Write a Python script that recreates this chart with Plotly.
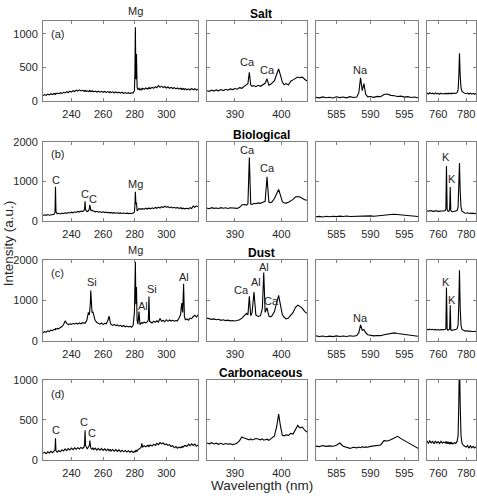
import plotly.graph_objects as go

# ---------------- data (wavelength in nm, intensity in a.u.) ----------------
uv_wl = ([222, 223, 224, 225, 226, 227, 228, 229, 229.6, 229.9, 230.2]
         + list(range(231, 249))
         + [248.3, 248.6, 248.9, 249.5, 250, 250.7, 251.3, 251.6, 251.9, 252.2, 252.5, 253, 253.5, 254]
         + list(range(255, 264)) + [263.8, 264.5] + list(range(265, 280))
         + [279.8, 280.1, 280.4, 280.75, 281.1, 281.5, 282, 282.7, 283.3, 284, 284.5]
         + list(range(285, 289)) + [288.6, 289.0, 289.4] + list(range(290, 310))
         + [309.4, 309.8, 310.3, 310.9, 311.4] + list(range(312, 321)))

vis_wl = [384, 384.5, 385, 385.5, 386, 386.5, 387, 387.5, 388, 388.5, 389, 389.5, 390, 390.5, 391, 391.5, 392, 392.5,
          392.8, 393.1, 393.4, 393.7, 394.1, 394.5, 395, 395.5, 395.9, 396.2, 396.5, 396.9, 397.3, 397.7, 398, 398.5,
          399, 399.4, 399.8, 400.2, 400.6, 401,
          401.5, 402, 402.5, 403, 403.5, 404, 404.5, 405, 405.5]

na_wl = [582, 582.5, 583, 583.5, 584, 584.5, 585, 585.5, 586, 586.5, 587, 587.5, 588,
         588.3, 588.55, 588.8, 589.05, 589.3, 589.6,
         590, 590.5, 591, 591.5, 592, 592.5, 593, 593.5, 594, 594.5, 595, 595.5, 596, 596.5, 597]

k_wl = ([752, 753, 754, 755, 756, 757, 758, 759, 760, 761, 762, 763, 764,
         765, 765.5, 765.9, 766.4, 767, 767.6, 768.2, 768.6, 769, 769.6, 770.5, 771.5, 772.5, 773.5,
         774.2, 774.7, 775.2, 775.7, 776.3, 777, 778, 779,
         780, 781, 782, 783, 784, 785, 786, 787])

salt_uv = ([75, 92, 80, 98, 86, 104, 92, 108] + [96, 112, 100]
           + [114, 104, 120, 108, 126, 116, 134, 122, 142, 128, 150, 138, 158, 144, 162, 146, 156, 142]
           + [150, 138, 152, 140, 148, 136, 150, 140, 152, 138, 148, 136, 146, 134]
           + [144, 130, 142, 128, 140, 126, 138, 124, 136] + [122, 134]
           + [120, 132, 118, 130, 116, 128, 112, 126, 110, 122, 108, 120, 106, 118, 114]
           + [150, 400, 1100, 320, 700, 200, 165, 185, 160, 180, 165]
           + [185, 170, 190, 175] + [192, 178, 196]
           + [182, 200, 186, 210, 195, 225, 200, 218, 196, 212, 190, 205, 186, 200, 182, 195, 176, 190, 172, 186]
           + [170, 184, 168, 182, 166] + [180, 164, 178, 160, 184, 164, 180, 160, 172])

bio_uv = ([130, 150, 135, 155, 140, 152, 145, 162] + [210, 860, 230]
          + [176, 188, 170, 192, 180, 202, 186, 208, 196, 216, 200, 226, 210, 236, 220, 246, 232, 262]
          + [300, 490, 280, 240, 232, 250, 300, 400, 290, 265, 272, 248, 258, 242]
          + [226, 240, 215, 230, 210, 225, 205, 220, 200] + [214, 196]
          + [210, 193, 205, 190, 200, 186, 198, 184, 195, 182, 192, 180, 190, 178, 192]
          + [220, 380, 730, 420, 460, 250, 280, 310, 288, 305, 292]
          + [306, 290, 316, 296] + [322, 302, 318]
          + [300, 326, 306, 336, 316, 346, 322, 356, 332, 366, 342, 356, 330, 346, 322, 340, 316, 336, 312, 330]
          + [306, 322, 302, 318, 300] + [302, 316, 300, 330, 310, 372, 342, 376, 352])

dust_uv = ([200, 226, 212, 244, 232, 262, 250, 282] + [270, 296, 282]
           + [306, 296, 330, 350, 400, 490, 430, 400, 420, 405, 430, 410, 436, 414, 440, 420, 446, 426]
           + [440, 430, 460, 480, 560, 700, 640, 720, 900, 1240, 800, 690, 720, 620]
           + [500, 452, 430, 410, 440, 400, 432, 418, 500] + [610, 460]
           + [402, 380, 406, 372, 392, 360, 382, 352, 376, 346, 362, 340, 356, 332, 380]
           + [700, 1200, 1950, 900, 1330, 500, 410, 720, 400, 430, 450]
           + [432, 460, 440, 470] + [520, 1090, 480]
           + [462, 440, 482, 456, 492, 462, 550, 482, 502, 470, 520, 480, 512, 486, 506, 482, 500, 492, 560, 640]
           + [820, 930, 700, 1410, 600] + [520, 540, 510, 560, 545, 600, 630, 585, 640])

carb_uv = ([80, 96, 76, 100, 86, 106, 90, 110] + [125, 270, 112]
           + [96, 116, 100, 126, 110, 136, 116, 140, 122, 146, 126, 150, 132, 152, 136, 156, 142, 162]
           + [210, 370, 180, 150, 136, 160, 180, 240, 165, 148, 140, 132, 150, 128]
           + [146, 122, 144, 120, 140, 118, 138, 115, 135] + [112, 132]
           + [110, 130, 108, 128, 105, 125, 102, 120, 100, 118, 98, 115, 95, 110, 92]
           + [105, 98, 112, 104, 118, 110, 126, 136, 148, 155, 205]
           + [160, 176, 162, 182] + [168, 186, 172]
           + [186, 172, 196, 180, 206, 190, 216, 200, 210, 190, 200, 180, 190, 166, 176, 150, 166, 146, 160, 150]
           + [162, 154, 170, 160, 176] + [180, 166, 196, 176, 200, 180, 196, 170, 186])

salt_vis = ([150, 140, 158, 144, 162, 148, 166, 152, 170, 158, 176, 166, 182, 172, 196, 186, 215, 240]
            + [255, 426, 235, 215, 226, 210, 230, 216, 238, 246, 260, 328, 232, 246, 262, 300, 400, 475, 380, 275, 240, 256]
            + [236, 292, 312, 340, 355, 345, 352, 322, 295])
bio_vis = ([320, 305, 330, 312, 322, 308, 330, 315, 326, 310, 328, 318, 325, 312, 340, 400, 410, 395]
           + [430, 1600, 420, 410, 440, 430, 450, 440, 458, 470, 490, 1114, 470, 455, 480, 560, 700, 790, 640, 480, 450, 446]
           + [470, 500, 540, 600, 612, 598, 560, 530, 520])
dust_vis = ([560, 545, 528, 540, 520, 530, 505, 520, 498, 510, 492, 500, 488, 500, 520, 560, 620, 677]
            + [640, 1097, 620, 700, 1202, 640, 600, 620, 800, 1685, 700, 815, 610, 590, 620, 720, 950, 1121, 880, 640, 580, 540]
            + [560, 620, 700, 820, 879, 850, 800, 720, 677])
carb_vis = ([210, 200, 214, 198, 208, 194, 206, 192, 204, 196, 200, 190, 198, 210, 240, 286, 272, 262]
            + [258, 250, 262, 248, 256, 266, 260, 250, 262, 246, 252, 258, 244, 262, 278, 300, 420, 571, 420, 306, 300, 312]
            + [306, 330, 322, 380, 429, 400, 410, 370, 347])

salt_na = ([50, 42, 56, 44, 52, 40, 58, 46, 54, 42, 60, 48, 56] + [120, 343, 150, 255, 100, 58]
           + [62, 50, 64, 58, 92, 100, 80, 74, 62, 68, 54, 60, 48, 56, 44])
bio_na = ([100, 110, 96, 112, 100, 114, 104, 116, 106, 118, 108, 112, 104] + [116, 106, 118, 110, 120, 112]
          + [122, 114, 126, 120, 134, 146, 156, 164, 158, 150, 140, 128, 120, 116, 108])
dust_na = ([120, 105, 118, 100, 115, 102, 120, 106, 118, 104, 122, 110, 130] + [200, 395, 260, 274, 200, 150]
           + [140, 120, 130, 126, 150, 170, 186, 194, 180, 168, 150, 140, 124, 118, 110])
carb_na = ([171, 165, 178, 168, 175, 170, 182, 210, 170, 160, 143, 158, 150] + [160, 152, 165, 155, 162, 158]
           + [168, 172, 176, 186, 240, 235, 250, 270, 294, 265, 240, 215, 190, 165, 143])

salt_k = ([115, 100, 118, 104, 112, 98, 116, 102, 110, 96, 114, 100, 108]
          + [102, 112, 104, 110, 100, 112, 104, 110, 102, 112, 106, 114, 108, 120, 160, 350, 711, 380, 190, 140, 118, 110]
          + [104, 114, 100, 112, 98, 110, 96, 108])
bio_k = ([250, 240, 256, 244, 252, 238, 250, 242, 248, 236, 246, 240, 250]
         + [260, 300, 1382, 280, 240, 236, 300, 854, 260, 232, 226, 232, 238, 260, 340, 800, 1463, 760, 340, 240, 210, 196]
         + [190, 200, 184, 196, 180, 192, 178, 187])
dust_k = ([285, 270, 288, 272, 282, 266, 280, 268, 278, 262, 276, 268, 274]
          + [280, 300, 1315, 290, 262, 268, 290, 879, 272, 258, 262, 270, 276, 300, 380, 900, 1742, 820, 380, 280, 250, 244]
          + [238, 246, 232, 240, 228, 238, 230, 234])
carb_k = ([240, 205, 238, 212, 230, 200, 236, 210, 228, 204, 232, 208, 224]
          + [212, 230, 204, 226, 200, 222, 198, 220, 196, 216, 198, 214, 204, 230, 300, 700, 1300, 700, 300, 210, 180, 170]
          + [160, 180, 145, 176, 150, 170, 148, 163])

row_titles = ["Salt", "Biological", "Dust", "Carbonaceous"]
col_wl = [uv_wl, vis_wl, na_wl, k_wl]
spectra = [
    [salt_uv, salt_vis, salt_na, salt_k],
    [bio_uv, bio_vis, bio_na, bio_k],
    [dust_uv, dust_vis, dust_na, dust_k],
    [carb_uv, carb_vis, carb_na, carb_k],
]
x_ranges = [[222, 320], [384, 405.5], [582, 597], [752, 787]]
x_ticks = [[240, 260, 280, 300], [390, 400], [585, 590, 595], [760, 780]]
y_ranges = [[0, 1200], [0, 2000], [0, 2000], [0, 1000]]
y_ticks = [[0, 500, 1000], [0, 1000, 2000], [0, 1000, 2000], [0, 500, 1000]]

# peak labels inside the panels: (row, col, text, wavelength, intensity)
peak_labels = [
    (0, 0, "(a)", 231.3, 1004), (0, 1, "Ca", 392.6, 585),
    (0, 1, "Ca", 397.1, 460), (0, 2, "Na", 588.6, 460),
    (1, 0, "(b)", 231.3, 1679), (1, 0, "C", 230.1, 1025), (1, 0, "C", 248.4, 667),
    (1, 0, "C", 253.5, 556), (1, 0, "Mg", 280.6, 938), (1, 1, "Ca", 392.8, 1790),
    (1, 1, "Ca", 397.1, 1333), (1, 3, "K", 765.9, 1617), (1, 3, "K", 769.5, 1062),
    (2, 0, "(c)", 231.3, 1663), (2, 0, "Si", 252.8, 1446),
    (2, 0, "Al", 285.0, 855), (2, 0, "Si", 290.7, 1277), (2, 0, "Al", 311.0, 1578),
    (2, 1, "Ca", 391.4, 1253), (2, 1, "Al", 394.5, 1446), (2, 1, "Al", 396.2, 1819),
    (2, 1, "Ca", 397.9, 988), (2, 2, "Na", 588.6, 554), (2, 3, "K", 765.7, 1446),
    (2, 3, "K", 769.5, 1012),
    (3, 0, "(d)", 231.3, 823), (3, 0, "C", 230.1, 378), (3, 0, "C", 248.1, 476),
    (3, 0, "C", 253.1, 335),
]
# labels of peaks running above the panel top: (row, col, text, wavelength)
top_labels = [(0, 0, "Mg", 280.4), (2, 0, "Mg", 280.3)]

# ---------------- layout ----------------
W, H = 477, 500
col_px = [(43, 198), (207, 307), (316, 418), (427, 476)]
row_px = [(15, 97), (139, 220), (260, 343), (383, 465)]
FONT = "Liberation Sans, Arial, sans-serif"
AXCOL = "#808080"
TXT = "#262626"

fig = go.Figure()
layout = dict(width=W, height=H, margin=dict(l=0, r=0, t=0, b=0),
              paper_bgcolor="white", plot_bgcolor="white", showlegend=False,
              font=dict(family=FONT, size=11, color=TXT))
annotations = []


def ax_names(r, c):
    k = r * 4 + c + 1
    return ("x" if k == 1 else f"x{k}"), ("y" if k == 1 else f"y{k}")


for r in range(4):
    for c in range(4):
        k = r * 4 + c + 1
        xa, ya = ax_names(r, c)
        fig.add_trace(go.Scatter(x=col_wl[c], y=spectra[r][c], mode="lines",
                                 line=dict(color="black", width=1.1), xaxis=xa, yaxis=ya,
                                 hoverinfo="skip"))
        x0, x1 = col_px[c]
        y0, y1 = row_px[r]
        common = dict(showgrid=False, zeroline=False, showline=True, linecolor=AXCOL, linewidth=1,
                      mirror="ticks", ticks="inside", ticklen=3, tickcolor=AXCOL, tickwidth=1,
                      tickfont=dict(family=FONT, size=11, color=TXT))
        layout["xaxis" if k == 1 else f"xaxis{k}"] = dict(
            common, domain=[x0 / W, x1 / W], range=x_ranges[c], tickvals=x_ticks[c],
            anchor=ya, ticklabelstandoff=3)
        layout["yaxis" if k == 1 else f"yaxis{k}"] = dict(
            common, domain=[1 - y1 / H, 1 - y0 / H], range=y_ranges[r], tickvals=y_ticks[r],
            anchor=xa, showticklabels=(c == 0), ticklabelstandoff=2)

for (r, c, t, xv, yv) in peak_labels:
    xa, ya = ax_names(r, c)
    annotations.append(dict(text=t, x=xv, y=yv, xref=xa, yref=ya, showarrow=False,
                            xanchor="center", yanchor="middle",
                            font=dict(family=FONT, size=11, color=TXT)))

for (r, c, t, xv) in top_labels:
    xa, ya = ax_names(r, c)
    annotations.append(dict(text=t, x=xv, y=1.0, xref=xa, yref=f"{ya} domain", showarrow=False,
                            xanchor="center", yanchor="bottom", yshift=2,
                            font=dict(family=FONT, size=11, color=TXT)))

for r, t in enumerate(row_titles):
    annotations.append(dict(text=f"<b>{t}</b>", x=261 / W, y=1 - (row_px[r][0] - 7) / H,
                            xref="paper", yref="paper", showarrow=False,
                            xanchor="center", yanchor="middle",
                            font=dict(family=FONT, size=12, color="black")))

annotations.append(dict(text="Wavelength (nm)", x=262 / W, y=1 - 491 / H, xref="paper", yref="paper",
                        showarrow=False, xanchor="center", yanchor="middle",
                        font=dict(family=FONT, size=13.5, color=TXT)))
annotations.append(dict(text="Intensity (a.u.)", x=8 / W, y=1 - 243 / H, xref="paper", yref="paper",
                        showarrow=False, textangle=-90, xanchor="center", yanchor="middle",
                        font=dict(family=FONT, size=13.5, color=TXT)))

layout["annotations"] = annotations
fig.update_layout(**layout)
fig.write_html("out.html", config={"displayModeBar": False},
               post_script="document.body.style.margin='0';document.body.style.overflow='hidden';")
